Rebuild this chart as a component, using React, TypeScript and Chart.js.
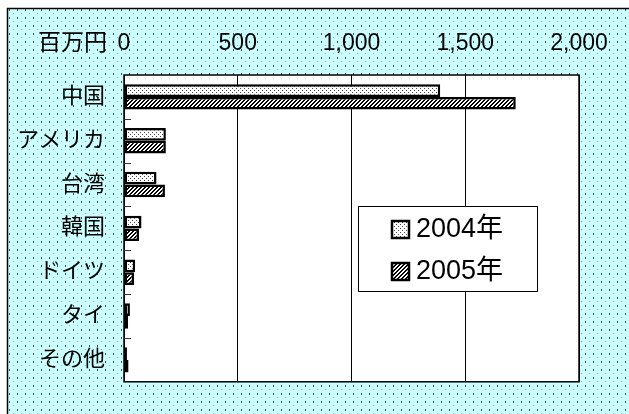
import React, { useEffect, useRef } from "react";
import { Chart, registerables } from "chart.js";

Chart.register(...registerables);

const categories = ["中国", "アメリカ", "台湾", "韓国", "ドイツ", "タイ", "その他"];
const series2004 = [1390, 184, 143, 77, 49, 26, 13];
const series2005 = [1722, 184, 180, 66, 44, 18, 20];
const seriesLabels = ["2004年", "2005年"];
const xTicks = [0, 500, 1000, 1500, 2000];
const unitLabel = "百万円";

const FONT = "'Liberation Sans', Arial, 'Noto Sans CJK JP', sans-serif";

function makePattern(kind: string): CanvasPattern | string {
  const c = document.createElement("canvas");
  const ctx = c.getContext("2d")!;
  if (kind === "dots") {
    c.width = 4; c.height = 4;
    ctx.fillStyle = "#ffffff"; ctx.fillRect(0, 0, 4, 4);
    ctx.fillStyle = "#444444";
    ctx.fillRect(0, 0, 1, 1); ctx.fillRect(2, 2, 1, 1);
  } else if (kind === "hatch") {
    c.width = 4; c.height = 4;
    ctx.fillStyle = "#ffffff"; ctx.fillRect(0, 0, 4, 4);
    ctx.fillStyle = "#000000";
    for (let i = 0; i < 4; i++) {
      const x = (3 - i + 4) % 4;
      ctx.fillRect(x, i, 2, 1);
      if (x + 2 > 4) ctx.fillRect(x - 4, i, 2, 1);
    }
  } else {
    c.width = 8; c.height = 8;
    ctx.fillStyle = "#ccffff"; ctx.fillRect(0, 0, 8, 8);
    ctx.fillStyle = "#3a5a5a";
    ctx.fillRect(1, 1, 1, 2);
    ctx.fillStyle = "#88b0b0";
    ctx.fillRect(5, 5, 1, 1);
  }
  return ctx.createPattern(c, "repeat")!;
}

export default function App() {
  const ref = useRef<HTMLCanvasElement>(null);
  useEffect(() => {
    const canvas = ref.current!;
    const pDots = makePattern("dots");
    const pHatch = makePattern("hatch");
    const pBg = makePattern("bg");

    const bgPlugin = {
      id: "bgPlugin",
      beforeDraw(chart: any) {
        const { ctx, chartArea: a } = chart;
        ctx.save();
        ctx.fillStyle = "#ffffff";
        ctx.fillRect(0, 0, chart.width, chart.height);
        ctx.fillStyle = pBg;
        ctx.fillRect(7, 8, chart.width - 7, chart.height - 8);
        ctx.strokeStyle = "#000";
        ctx.lineWidth = 1.5;
        ctx.beginPath();
        ctx.moveTo(7.5, chart.height);
        ctx.lineTo(7.5, 8.5);
        ctx.lineTo(chart.width, 8.5);
        ctx.stroke();
        ctx.fillStyle = "#ffffff";
        ctx.fillRect(a.left, a.top, a.right - a.left, a.bottom - a.top);
        ctx.restore();
      },
      afterDraw(chart: any) {
        const { ctx, chartArea: a } = chart;
        const y = chart.scales.y;
        ctx.save();
        // plot border
        ctx.strokeStyle = "#000";
        ctx.lineWidth = 1.5;
        ctx.strokeRect(a.left, a.top, a.right - a.left, a.bottom - a.top);
        // inner category tick marks
        ctx.strokeStyle = "#333";
        ctx.lineWidth = 1;
        for (let i = 1; i < categories.length; i++) {
          const py = Math.round((y.getPixelForTick(i - 1) + y.getPixelForTick(i)) / 2) + 0.5;
          ctx.beginPath();
          ctx.moveTo(a.left, py);
          ctx.lineTo(a.left + 7, py);
          ctx.stroke();
        }
        // unit label
        ctx.fillStyle = "#000";
        ctx.font = `23px ${FONT}`;
        ctx.textAlign = "right";
        ctx.textBaseline = "middle";
        ctx.fillText(unitLabel, 107, 44);
        // legend
        const lx = 358, ly = 206, lw = 179, lh = 85;
        ctx.fillStyle = "#fff";
        ctx.fillRect(lx, ly, lw, lh);
        ctx.strokeStyle = "#000";
        ctx.lineWidth = 1;
        ctx.strokeRect(lx + 0.5, ly + 0.5, lw, lh);
        const rows = [229, 271];
        chart.data.datasets.forEach((ds: any, i: number) => {
          const cy = rows[i];
          ctx.fillStyle = ds.backgroundColor;
          ctx.fillRect(392, cy - 8, 17, 17);
          ctx.strokeStyle = "#000";
          ctx.lineWidth = 2.5;
          ctx.strokeRect(392, cy - 8, 17, 17);
          ctx.fillStyle = "#000";
          ctx.font = `27px ${FONT}`;
          ctx.textAlign = "left";
          ctx.textBaseline = "middle";
          ctx.fillText(ds.label, 416, cy + 1);
        });
        ctx.restore();
      },
    };

    const chart = new Chart(canvas, {
      type: "bar",
      data: {
        labels: categories,
        datasets: [
          {
            label: seriesLabels[0],
            data: series2004,
            backgroundColor: pDots as any,
            borderColor: "#000",
            borderWidth: 2.5,
            borderSkipped: false,
            categoryPercentage: 0.58,
            barPercentage: 1,
          },
          {
            label: seriesLabels[1],
            data: series2005,
            backgroundColor: pHatch as any,
            borderColor: "#000",
            borderWidth: 2.5,
            borderSkipped: false,
            categoryPercentage: 0.58,
            barPercentage: 1,
          },
        ],
      },
      options: {
        indexAxis: "y",
        responsive: false,
        animation: false,
        layout: { padding: { left: 0, top: 0, right: 50, bottom: 13 } },
        plugins: { legend: { display: false }, tooltip: { enabled: false } },
        scales: {
          x: {
            position: "top",
            min: 0,
            max: 2000,
            afterBuildTicks(scale: any) {
              scale.ticks = xTicks.map((v) => ({ value: v }));
            },
            afterFit(scale: any) {
              scale.height = 75;
            },
            ticks: {
              color: "#000",
              font: { family: FONT, size: 23 },
              padding: 18,
              maxRotation: 0,
              callback: (v: any) => Number(v).toLocaleString("en-US"),
            },
            grid: { color: "#000", lineWidth: 1, drawTicks: false },
            border: { display: false },
          },
          y: {
            afterFit(scale: any) {
              scale.width = 124;
            },
            ticks: {
              color: "#000",
              font: { family: FONT, size: 22 },
              padding: 19,
            },
            grid: { display: false, drawTicks: false },
            border: { display: false },
          },
        },
      },
      plugins: [bgPlugin],
    } as any);
    return () => chart.destroy();
  }, []);
  return (
    <div style={{ position: "absolute", left: 0, top: 0, width: 629, height: 414 }}>
      <canvas ref={ref} width={629} height={414} style={{ display: "block" }} />
    </div>
  );
}
